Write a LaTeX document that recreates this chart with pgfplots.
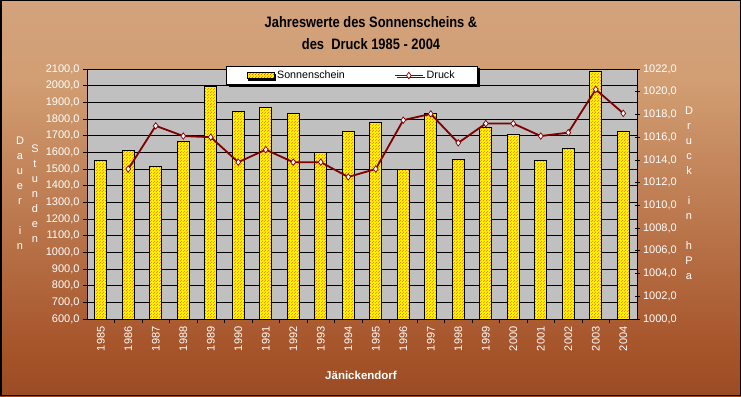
\documentclass[border=0pt]{standalone}
\usepackage{fontspec}
\setmainfont{Liberation Sans}
\usepackage{pgfplots}
\pgfplotsset{compat=1.18}
\usetikzlibrary{patterns,shadows}
\definecolor{bgA}{RGB}{100,45,20}
\definecolor{bgB}{RGB}{165,82,40}
\definecolor{bgC}{RGB}{210,158,115}
\definecolor{bgD}{RGB}{212,175,152}
\definecolor{druck}{RGB}{128,0,0}
\definecolor{plotbg}{RGB}{192,192,192}
\definecolor{barfill}{RGB}{255,240,0}
\pgfdeclareverticalshading{bgshade}{100bp}{color(0bp)=(bgA); color(30bp)=(bgB); color(65bp)=(bgC); color(100bp)=(bgD)}
\pgfdeclarepatternformonly{finedots}{\pgfqpoint{0pt}{0pt}}{\pgfqpoint{3pt}{3pt}}{\pgfqpoint{3pt}{3pt}}{%
  \pgfpathrectangle{\pgfqpoint{0.2pt}{0.2pt}}{\pgfqpoint{0.7pt}{0.7pt}}%
  \pgfpathrectangle{\pgfqpoint{1.7pt}{1.7pt}}{\pgfqpoint{0.7pt}{0.7pt}}%
  \pgfusepath{fill}}
\pgfplotsset{druckline/.style={legend image code/.code={\draw[mark repeat=2, mark phase=2, ##1] plot coordinates {(0pt,0pt) (14pt,0pt) (28pt,0pt)};}}}
\begin{document}
\begin{tikzpicture}
\useasboundingbox (0,0) rectangle (741pt,396pt);
\shade[shading=bgshade] (0,0) rectangle (741pt,396pt);
\draw[black, line width=1.5pt] (0.75pt,0.75pt) rectangle (740.25pt,395.25pt);
% titles
\node[font=\bfseries\fontsize{14}{16}\selectfont, text=black] at (371pt,374pt) {\scalebox{0.92}[1.08]{Jahreswerte des Sonnenscheins \&}};
\node[font=\bfseries\fontsize{14}{16}\selectfont, text=black] at (371pt,352pt) {\scalebox{0.92}[1.08]{des\ \ Druck 1985 - 2004}};
% axis titles (stacked letters)
\node[anchor=north, inner sep=0pt, align=center, text=white, font=\fontsize{11}{15}\selectfont] at (20pt,259pt) {D\\a\\u\\e\\r\\\strut\\i\\n};
\node[anchor=north, inner sep=0pt, align=center, text=white, font=\fontsize{11}{15}\selectfont] at (35pt,251pt) {S\\t\\u\\n\\d\\e\\n};
\node[anchor=north, inner sep=0pt, align=center, text=white, font=\fontsize{11}{15}\selectfont] at (689pt,289pt) {D\\r\\u\\c\\k\\\strut\\i\\n\\\strut\\h\\P\\a};
\node[text=white, font=\bfseries\fontsize{11.5}{13}\selectfont] at (361pt,21pt) {Jänickendorf};

\begin{axis}[
  at={(87pt,77pt)}, anchor=south west, scale only axis,
  width=550pt, height=250pt,
  xmin=-0.5, xmax=19.5, ymin=600, ymax=2100,
  ytick distance=100,
  xtick={0,...,19},
  xticklabels={1985,1986,1987,1988,1989,1990,1991,1992,1993,1994,1995,1996,1997,1998,1999,2000,2001,2002,2003,2004},
  xtick style={draw=none},
  extra x ticks={0.5,1.5,...,18.5},
  extra x tick labels={},
  extra x tick style={grid=none, xtick style={draw=black, line width=0.8pt}, major tick length=4pt, tick align=outside},
  axis x line*=bottom, axis y line*=left,
  axis line style={black, line width=0.9pt, -},
  axis background/.style={fill=plotbg},
  ymajorgrids, grid style={black, line width=0.9pt},
  ytick style={black, line width=0.8pt},
  tick align=outside, major tick length=4pt,
  ticklabel style={text=white, font=\fontsize{11}{12}\selectfont},
  xticklabel style={rotate=90, anchor=east, yshift=0pt},
  yticklabel style={/pgf/number format/.cd, fixed, fixed zerofill, precision=1, use comma, 1000 sep={}, assume math mode=true},
]
\addplot[ybar, bar width=12pt, draw=black, line width=0.7pt, fill=barfill, postaction={pattern=finedots, pattern color=red}] coordinates {
(0,1552) (1,1612) (2,1515) (3,1668) (4,1996) (5,1844) (6,1870) (7,1834) (8,1598) (9,1728)
(10,1780) (11,1498) (12,1834) (13,1558) (14,1750) (15,1706) (16,1552) (17,1624) (18,2084) (19,1728)};
\end{axis}

\begin{axis}[
  at={(87pt,77pt)}, anchor=south west, scale only axis,
  width=550pt, height=250pt,
  xmin=-0.5, xmax=19.5, ymin=1000, ymax=1022,
  ytick distance=2,
  axis x line=none, axis y line*=right,
  axis line style={black, line width=0.9pt, -},
  ytick style={black, line width=0.8pt},
  tick align=center, major tick length=5pt,
  ticklabel style={text=white, font=\fontsize{11}{12}\selectfont},
  yticklabel style={/pgf/number format/.cd, fixed, fixed zerofill, precision=1, use comma, 1000 sep={}, assume math mode=true},
  legend columns=2,
  legend style={at={(0.482,1.012)}, anchor=north, draw=black, fill=white, line width=0.8pt,
    font=\fontsize{10.7}{12}\selectfont, inner xsep=20pt, inner ysep=2.5pt,
    drop shadow={shadow xshift=2pt, shadow yshift=-2pt, fill=black, opacity=1},
    /tikz/every even column/.append style={column sep=46pt},
    nodes={inner xsep=3pt}},
]
\addlegendimage{legend image code/.code={\draw[black, line width=0.6pt, fill=barfill, postaction={pattern=finedots, pattern color=red}] (0pt,-3pt) rectangle (27pt,3pt);}}
\addlegendentry{Sonnenschein}
\addplot[druck, line width=1.8pt, mark=diamond*, mark size=3.2pt, mark options={fill=white, draw=druck, line width=0.7pt}, druckline] coordinates {
(1,1013.2) (2,1017.0) (3,1016.1) (4,1016.0) (5,1013.8) (6,1014.9) (7,1013.8) (8,1013.8) (9,1012.5)
(10,1013.2) (11,1017.5) (12,1018.05) (13,1015.5) (14,1017.2) (15,1017.2) (16,1016.1) (17,1016.4) (18,1020.2) (19,1018.1)};
\addlegendentry{Druck}
\end{axis}
\end{tikzpicture}
\end{document}
